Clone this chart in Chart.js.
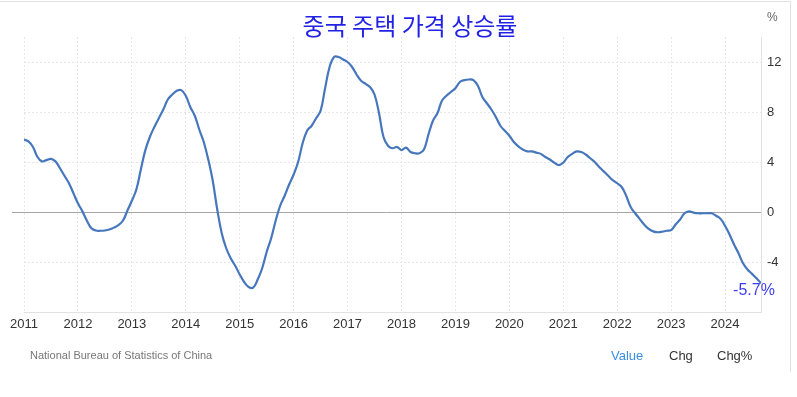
<!DOCTYPE html>
<html>
<head>
<meta charset="utf-8">
<script src="https://cdn.jsdelivr.net/npm/chart.js@4/dist/chart.umd.min.js"></script>
<style>
  html, body { margin:0; padding:0; background:#fff; }
  #wrap { position:relative; width:797px; height:397px; overflow:hidden; background:#fff; }
  canvas { position:absolute; left:0; top:0; }
  .frame { position:absolute; left:0; top:1px; width:791px; height:371px; border-top:1px solid #e2e2e2; border-right:1px solid #e2e2e2; box-sizing:border-box; }
  .title { position:absolute; left:410px; top:9px; transform:translateX(-50%); font-family:"Noto Sans CJK KR", sans-serif; font-size:24px; color:#2222e6; white-space:nowrap; line-height:32px; }
  .unit { position:absolute; left:767px; top:10px; font-family:"Liberation Sans", Arial, sans-serif; font-size:12px; color:#666; }
  .src { position:absolute; left:30px; top:349px; font-family:"Liberation Sans", Arial, sans-serif; font-size:11px; color:#777; white-space:nowrap; }
  .tab { position:absolute; top:348px; font-family:"Liberation Sans", Arial, sans-serif; font-size:13px; color:#333; white-space:nowrap; }
</style>
</head>
<body>
<div id="wrap">
  <div class="frame"></div>
  <canvas id="c" width="797" height="397"></canvas>
  <div class="title">중국 주택 가격 상승률</div>
  <div class="unit">%</div>
  <div class="src">National Bureau of Statistics of China</div>
  <div class="tab" style="left:611px;color:#3a8ee6;">Value</div>
  <div class="tab" style="left:669px;">Chg</div>
  <div class="tab" style="left:717px;">Chg%</div>
</div>
<script>
// Year tick labels (one per January, starting Jan 2011)
const yearLabels = ['2011','2012','2013','2014','2015','2016','2017','2018','2019','2020','2021','2022','2023','2024'];
// Y axis ticks
const yTicks = [-4, 0, 4, 8, 12];
// Monthly YoY house price change (%), Jan 2011 .. Sep 2024
const values = [
  5.8, 5.65, 5.2, 4.4, 4.05, 4.15, 4.25, 4.05, 3.5, 2.9, 2.3, 1.5,
  0.7, 0.05, -0.7, -1.3, -1.48, -1.5, -1.48, -1.4, -1.25, -1.05, -0.7, 0.1,
  0.9, 1.8, 3.4, 4.95, 6.0, 6.8, 7.5, 8.2, 9.0, 9.4, 9.7, 9.75,
  9.3, 8.4, 7.7, 6.6, 5.6, 4.2, 2.5, 0.2, -1.7, -2.9, -3.7, -4.3,
  -5.0, -5.6, -6.0, -6.05, -5.4, -4.5, -3.2, -2.1, -0.7, 0.5, 1.3, 2.2,
  3.0, 4.0, 5.5, 6.5, 6.9, 7.5, 8.1, 9.9, 11.6, 12.4, 12.4, 12.2,
  12.0, 11.6, 11.0, 10.5, 10.25, 10.0, 9.4, 7.9, 6.0, 5.3, 5.1, 5.2,
  4.95, 5.15, 4.8, 4.7, 4.7, 5.0, 6.2, 7.3, 7.9, 8.9, 9.3, 9.6,
  9.9, 10.4, 10.55, 10.6, 10.55, 10.1, 9.2, 8.7, 8.2, 7.6, 6.9, 6.5,
  6.1, 5.6, 5.25, 5.0, 4.85, 4.85, 4.75, 4.65, 4.4, 4.2, 3.95, 3.75,
  3.95, 4.4, 4.65, 4.85, 4.8, 4.6, 4.3, 4.0, 3.6, 3.25, 2.9, 2.55,
  2.3, 2.0, 1.3, 0.4, -0.1, -0.55, -1.0, -1.35, -1.55, -1.62, -1.58, -1.5,
  -1.45, -1.0, -0.6, -0.1, 0.05, -0.05, -0.1, -0.1, -0.1, -0.1, -0.3, -0.55,
  -1.1, -1.8, -2.6, -3.3, -4.1, -4.6, -4.95, -5.3, -5.7
];
const lastLabel = '-5.7%';

const points = values.map((v, i) => ({ x: i, y: v }));

const zeroLine = {
  id: 'zeroLine',
  beforeDatasetsDraw(chart) {
    const { ctx, chartArea, scales } = chart;
    const y = Math.round(scales.y.getPixelForValue(0)) + 0.5;
    ctx.save();
    ctx.strokeStyle = '#a6a6a6';
    ctx.lineWidth = 1;
    ctx.beginPath();
    ctx.moveTo(chartArea.left - 12, y);
    ctx.lineTo(chartArea.right, y);
    ctx.stroke();
    ctx.restore();
  }
};

const endLabel = {
  id: 'endLabel',
  afterDatasetsDraw(chart) {
    const meta = chart.getDatasetMeta(0);
    const pt = meta.data[meta.data.length - 1];
    const { ctx } = chart;
    ctx.save();
    ctx.font = '16px "Liberation Sans", Arial, sans-serif';
    ctx.fillStyle = '#3d3df2';
    ctx.textAlign = 'center';
    ctx.textBaseline = 'middle';
    ctx.fillText(lastLabel, pt.x - 7, pt.y + 7);
    ctx.restore();
  }
};

new Chart(document.getElementById('c'), {
  type: 'line',
  data: {
    datasets: [{
      data: points,
      borderColor: '#4677bd',
      borderWidth: 2.2,
      pointRadius: 0,
      fill: false,
      tension: 0.4
    }]
  },
  options: {
    responsive: false,
    animation: false,
    layout: { padding: { left: 24, top: 37, right: 0, bottom: 0 } },
    plugins: { legend: { display: false }, tooltip: { enabled: false }, title: { display: false } },
    scales: {
      x: {
        type: 'linear',
        min: 0,
        max: values.length - 1,
        afterBuildTicks: s => { s.ticks = yearLabels.map((l, i) => ({ value: i * 12 })); },
        afterFit: s => { s.height = 85; },
        ticks: {
          autoSkip: false,
          maxRotation: 0,
          padding: 5,
          color: '#333',
          font: { family: '"Liberation Sans", Arial, sans-serif', size: 13 },
          callback: v => yearLabels[Math.round(v / 12)]
        },
        grid: { color: '#e6e6e6', drawTicks: false },
        border: { display: true, color: '#e2e2e2', dash: [2, 2] }
      },
      y: {
        position: 'right',
        min: -8,
        max: 14,
        afterBuildTicks: s => { s.ticks = yTicks.map(v => ({ value: v })); },
        afterFit: s => { s.width = 36; },
        ticks: {
          padding: 6,
          color: '#333',
          font: { family: '"Liberation Sans", Arial, sans-serif', size: 13 },
          callback: v => String(v)
        },
        grid: {
          color: c => (c.tick && c.tick.value === 0) ? 'rgba(0,0,0,0)' : '#e6e6e6',
          drawTicks: false
        },
        border: { display: true, color: '#e2e2e2', dash: [2, 2] }
      }
    }
  },
  plugins: [zeroLine, endLabel]
});
</script>
</body>
</html>
